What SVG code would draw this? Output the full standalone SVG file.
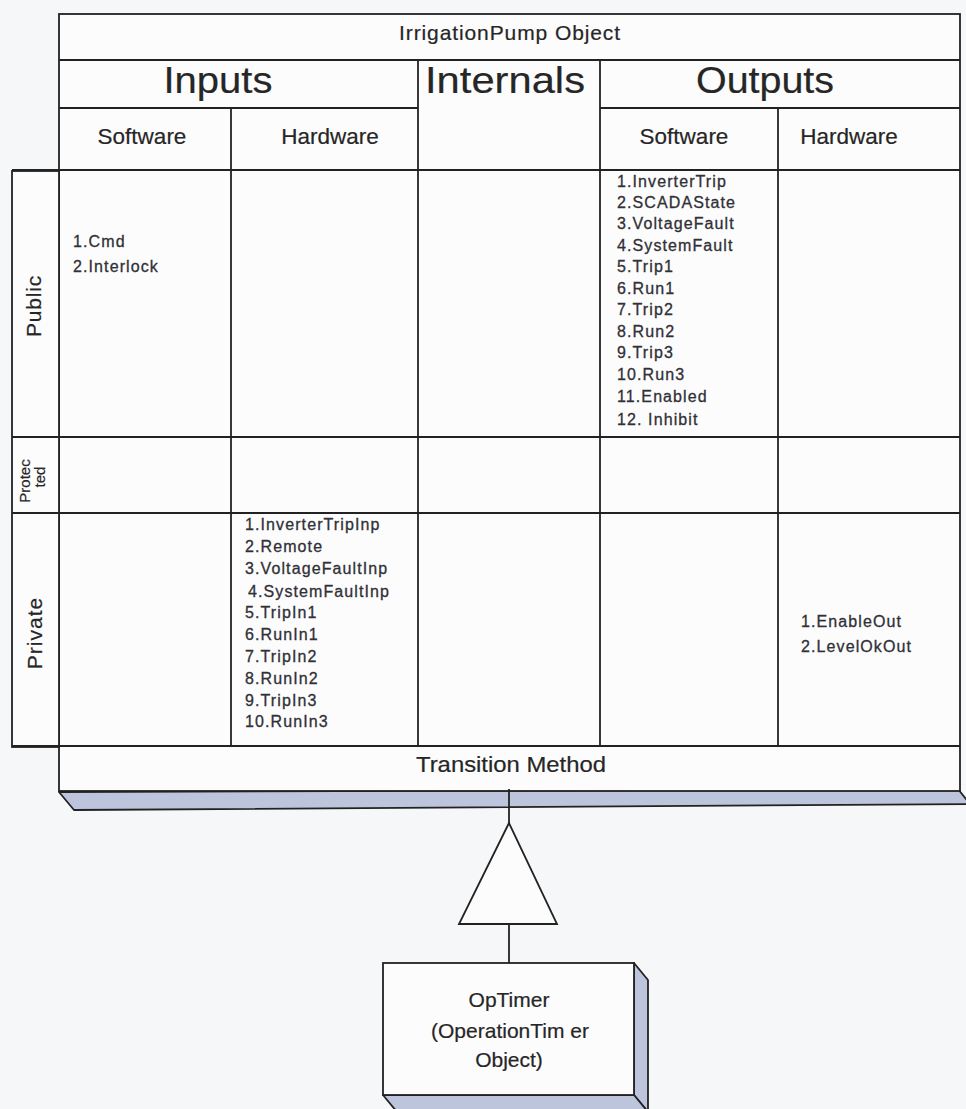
<svg xmlns="http://www.w3.org/2000/svg" width="966" height="1109" viewBox="0 0 966 1109">
  <style>
    .frame { fill: #fcfcfd; stroke: #222; stroke-width: 1.8; }
    .grid { stroke: #222; stroke-width: 1.8; fill: none; }
    .depth { fill: #bcc5dc; stroke: #222; stroke-width: 1.8; stroke-linejoin: round; }
    text { font-family: "Liberation Sans", Arial, sans-serif; fill: #262626; stroke: #262626; stroke-width: 0.2; }
    .title { font-size: 21px; letter-spacing: 0.9px; text-anchor: middle; }
    .big { font-size: 37px; text-anchor: middle; }
    .sub { font-size: 22.5px; text-anchor: middle; }
    .vis { text-anchor: middle; }
    .list { font-size: 16px; letter-spacing: 1.1px; fill: #303036; stroke: #303036; stroke-width: 0.3; }
    .method { font-size: 22px; text-anchor: middle; }
    .box { font-size: 21px; text-anchor: middle; }
  </style>

  <rect width="966" height="1109" fill="#f6f7f9"/>

  <!-- IrrigationPump object table -->
  <g id="irrigation-pump">
    <!-- extruded bottom edge -->
    <polygon class="depth" points="59,792 958,789 970,804 74,810"/>
    <!-- main frame -->
    <rect class="frame" x="59" y="14" width="901" height="777"/>
    <!-- visibility column on the left -->
    <rect class="frame" x="12" y="171" width="47" height="576"/>

    <g class="grid">
      <line x1="59" y1="60" x2="960" y2="60"/>
      <line x1="59" y1="108" x2="418" y2="108"/>
      <line x1="600" y1="108" x2="960" y2="108"/>
      <line x1="12" y1="170" x2="960" y2="170"/>
      <line x1="12" y1="437" x2="960" y2="437"/>
      <line x1="12" y1="513" x2="960" y2="513"/>
      <line x1="12" y1="746" x2="960" y2="746"/>
      <line x1="418" y1="60" x2="418" y2="746"/>
      <line x1="600" y1="60" x2="600" y2="746"/>
      <line x1="231" y1="108" x2="231" y2="746"/>
      <line x1="778" y1="108" x2="778" y2="746"/>
    </g>

    <text class="title" x="510" y="40">IrrigationPump Object</text>
    <text class="big" x="218" y="93" textLength="109" lengthAdjust="spacingAndGlyphs">Inputs</text>
    <text class="big" x="505" y="93" textLength="160" lengthAdjust="spacingAndGlyphs">Internals</text>
    <text class="big" x="765" y="93" textLength="138" lengthAdjust="spacingAndGlyphs">Outputs</text>

    <text class="sub" x="142" y="144">Software</text>
    <text class="sub" x="330" y="144">Hardware</text>
    <text class="sub" x="684" y="144">Software</text>
    <text class="sub" x="849" y="144">Hardware</text>

    <!-- visibility labels -->
    <text class="vis" font-size="21" letter-spacing="0.8" transform="translate(41,306) rotate(-90)">Public</text>
    <text class="vis" font-size="15" transform="translate(30,481) rotate(-90)">Protec</text>
    <text class="vis" font-size="15" transform="translate(45,477) rotate(-90)">ted</text>
    <text class="vis" font-size="21" letter-spacing="1" transform="translate(42,633) rotate(-90)">Private</text>

    <!-- public software inputs -->
    <text class="list" font-size="17" letter-spacing="1.5" x="73" y="247">1.Cmd</text>
    <text class="list" font-size="17" letter-spacing="1.5" x="73" y="272">2.Interlock</text>

    <!-- public software outputs -->
    <text class="list" x="617" y="187">1.InverterTrip</text>
    <text class="list" x="617" y="208">2.SCADAState</text>
    <text class="list" x="617" y="229">3.VoltageFault</text>
    <text class="list" x="617" y="251">4.SystemFault</text>
    <text class="list" x="617" y="272">5.Trip1</text>
    <text class="list" x="617" y="294">6.Run1</text>
    <text class="list" x="617" y="315">7.Trip2</text>
    <text class="list" x="617" y="337">8.Run2</text>
    <text class="list" x="617" y="358">9.Trip3</text>
    <text class="list" x="617" y="380">10.Run3</text>
    <text class="list" x="617" y="402">11.Enabled</text>
    <text class="list" x="617" y="425">12. Inhibit</text>

    <!-- private hardware inputs -->
    <text class="list" font-size="15.5" letter-spacing="1.2" x="245" y="530">1.InverterTripInp</text>
    <text class="list" font-size="15.5" letter-spacing="1.2" x="245" y="552">2.Remote</text>
    <text class="list" font-size="15.5" letter-spacing="1.2" x="245" y="574">3.VoltageFaultInp</text>
    <text class="list" font-size="15.5" letter-spacing="1.2" x="248" y="597">4.SystemFaultInp</text>
    <text class="list" font-size="15.5" letter-spacing="1.2" x="245" y="618">5.TripIn1</text>
    <text class="list" font-size="15.5" letter-spacing="1.2" x="245" y="640">6.RunIn1</text>
    <text class="list" font-size="15.5" letter-spacing="1.2" x="245" y="662">7.TripIn2</text>
    <text class="list" font-size="15.5" letter-spacing="1.2" x="245" y="684">8.RunIn2</text>
    <text class="list" font-size="15.5" letter-spacing="1.2" x="245" y="706">9.TripIn3</text>
    <text class="list" font-size="15.5" letter-spacing="1.2" x="245" y="727">10.RunIn3</text>

    <!-- private hardware outputs -->
    <text class="list" font-size="18" letter-spacing="1.1" x="801" y="627">1.EnableOut</text>
    <text class="list" font-size="18" letter-spacing="1.1" x="801" y="652">2.LevelOkOut</text>

    <text class="method" x="511" y="772" textLength="190" lengthAdjust="spacingAndGlyphs">Transition Method</text>
  </g>

  <!-- inheritance link: OpTimer derives from IrrigationPump -->
  <g id="connectors" fill="none" stroke="#222" stroke-width="1.8">
    <line x1="509" y1="789" x2="509" y2="823"/>
    <polygon points="509,823 459,924 557,924" fill="#fcfcfd" stroke-linejoin="miter"/>
    <line x1="509" y1="924" x2="509" y2="963"/>
  </g>

  <!-- OpTimer object box -->
  <g id="op-timer">
    <polygon class="depth" points="634,963 648,980 648,1112 634,1095"/>
    <polygon class="depth" points="383,1095 634,1095 648,1112 397,1112"/>
    <rect class="frame" x="383" y="963" width="251" height="132"/>
    <text class="box" x="509" y="1007">OpTimer</text>
    <text class="box" x="510" y="1038">(OperationTim er</text>
    <text class="box" x="509" y="1067">Object)</text>
  </g>
</svg>
